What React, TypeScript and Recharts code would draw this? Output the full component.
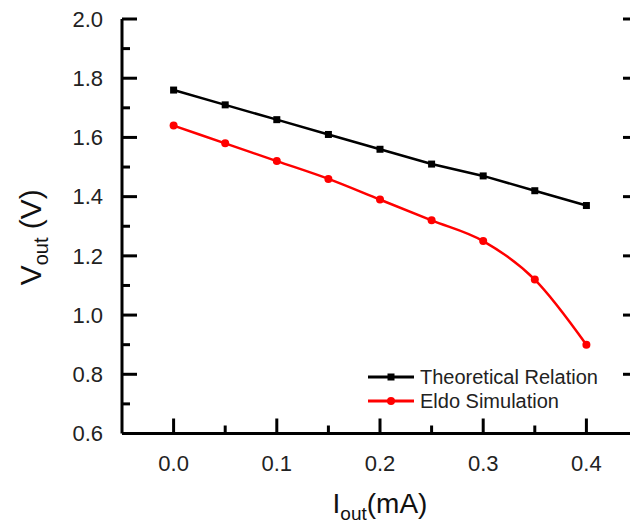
import React from "react";
import { LineChart, Line, XAxis, YAxis, Legend } from "recharts";

// I_out in mA, V_out in volts
const currentMA = [0, 0.05, 0.1, 0.15, 0.2, 0.25, 0.3, 0.35, 0.4];
const theoreticalV = [1.76, 1.71, 1.66, 1.61, 1.56, 1.51, 1.47, 1.42, 1.37];
const eldoV = [1.64, 1.58, 1.52, 1.46, 1.39, 1.32, 1.25, 1.12, 0.9];
const seriesOrder = ["theo", "eldo"];

const xTicks = [0, 0.05, 0.1, 0.15, 0.2, 0.25, 0.3, 0.35, 0.4];
const xMajor = [0, 0.1, 0.2, 0.3, 0.4];
const yTicks = [0.6, 0.7, 0.8, 0.9, 1.0, 1.1, 1.2, 1.3, 1.4, 1.5, 1.6, 1.7, 1.8, 1.9, 2.0];
const yMajor = [0.6, 0.8, 1.0, 1.2, 1.4, 1.6, 1.8, 2.0];

const font = '"Liberation Sans", Arial, sans-serif';
const red = "#ff0000";
const black = "#000000";

const data = currentMA.map((i, k) => ({ i, theo: theoreticalV[k], eldo: eldoV[k] }));

const isIn = (list: number[], v: number) => list.some((m) => Math.abs(m - v) < 1e-6);

function Tick(props: any) {
  const { x, y, payload, side } = props;
  const v = payload.value;
  const horiz = side === "bottom" || side === "top";
  const major = isIn(horiz ? xMajor : yMajor, v);
  const len = major ? 15 : 8;
  let end = [x, y];
  if (side === "bottom") end = [x, y - len];
  else if (side === "top") end = [x, y + len];
  else if (side === "left") end = [x + len, y];
  else end = [x - len, y];
  return (
    <g>
      <line x1={x} y1={y} x2={end[0]} y2={end[1]} stroke={black} strokeWidth={3} />
      {major && side === "bottom" && (
        <text x={x} y={y + 22} dy="0.71em" textAnchor="middle" fontSize={22} fontFamily={font} fill="#222">
          {v.toFixed(1)}
        </text>
      )}
      {major && side === "left" && (
        <text x={x - 19} y={y} dy="0.355em" textAnchor="end" fontSize={22} fontFamily={font} fill="#222">
          {v.toFixed(1)}
        </text>
      )}
    </g>
  );
}

function XTitle({ viewBox }: any) {
  const cx = viewBox.x + viewBox.width / 2;
  const by = viewBox.y + 79.5;
  return (
    <text x={cx} y={by} textAnchor="middle" fontFamily={font} fontSize={28} fill="#111">
      I<tspan fontSize={19} dy={7}>out</tspan>
      <tspan dy={-7}>(mA)</tspan>
    </text>
  );
}

function YTitle({ viewBox }: any) {
  const cx = 41;
  const cy = viewBox.y + viewBox.height / 2 + 11;
  return (
    <text x={cx} y={cy} transform={`rotate(-90, ${cx}, ${cy})`} textAnchor="middle" fontFamily={font} fontSize={30} fill="#111">
      V<tspan fontSize={20} dy={7}>out</tspan>
      <tspan dy={-7}> (V)</tspan>
    </text>
  );
}

const SquareDot = (p: any) => (
  <rect key={`sq-${p.index}`} x={p.cx - 3.5} y={p.cy - 3.5} width={7} height={7} fill={black} />
);

function LegendBox({ payload }: any) {
  const items = [...(payload || [])].sort(
    (a: any, b: any) => seriesOrder.indexOf(a.dataKey) - seriesOrder.indexOf(b.dataKey)
  );
  return (
    <div style={{ fontFamily: font, fontSize: 20, color: "#222" }}>
      {items.map((e: any) => (
        <div key={e.value} style={{ display: "flex", alignItems: "center", height: 24 }}>
          <svg width={46} height={24}>
            <line x1={0} y1={12} x2={46} y2={12} stroke={e.color} strokeWidth={3} />
            {e.dataKey === "theo" ? (
              <rect x={19.5} y={8.5} width={7} height={7} fill={e.color} />
            ) : (
              <circle cx={23} cy={12} r={4} fill={e.color} />
            )}
          </svg>
          <span style={{ marginLeft: 6, whiteSpace: "nowrap" }}>{e.value}</span>
        </div>
      ))}
    </div>
  );
}

export default function App() {
  return (
    <div style={{ position: "fixed", left: 0, top: 0, width: 630, height: 527, overflow: "hidden", background: "#fff" }}>
      <LineChart width={660} height={527} data={data} margin={{ top: 19, right: 0, bottom: 0, left: 0 }}>
        <XAxis
          dataKey="i" type="number" domain={[-0.05, 0.45]} ticks={xTicks} interval={0} allowDataOverflow
          height={93.5} tickSize={0} tickMargin={0} tickLine={false}
          axisLine={{ stroke: black, strokeWidth: 3 }}
          tick={<Tick side="bottom" />}
          label={<XTitle />}
        />
        <XAxis
          xAxisId="top" orientation="top" type="number" domain={[-0.05, 0.45]} ticks={xTicks} interval={0} allowDataOverflow
          height={0} tickSize={0} tickMargin={0} tickLine={false}
          axisLine={{ stroke: black, strokeWidth: 3 }}
          tick={<Tick side="top" />}
        />
        <YAxis
          type="number" domain={[0.6, 2.0]} ticks={yTicks} interval={0} allowDataOverflow
          width={122} tickSize={0} tickMargin={0} tickLine={false}
          axisLine={{ stroke: black, strokeWidth: 3 }}
          tick={<Tick side="left" />}
          label={<YTitle />}
        />
        <YAxis
          yAxisId="right" orientation="right" type="number" domain={[0.6, 2.0]} ticks={yTicks} interval={0} allowDataOverflow
          width={22} tickSize={0} tickMargin={0} tickLine={false}
          axisLine={{ stroke: black, strokeWidth: 3 }}
          tick={<Tick side="right" />}
        />
        <Legend
          layout="vertical" align="center" verticalAlign="middle"
          content={<LegendBox />}
          wrapperStyle={{ left: 368, top: 365, width: 260 }}
        />
        <Line
          name="Theoretical Relation" dataKey="theo" type="linear" stroke={black} strokeWidth={2.5}
          dot={SquareDot} activeDot={false} isAnimationActive={false}
        />
        <Line
          name="Eldo Simulation" dataKey="eldo" type="monotone" stroke={red} strokeWidth={2.5}
          dot={{ r: 4, fill: red, stroke: red, strokeWidth: 0 }} activeDot={false} isAnimationActive={false}
        />
      </LineChart>
    </div>
  );
}
